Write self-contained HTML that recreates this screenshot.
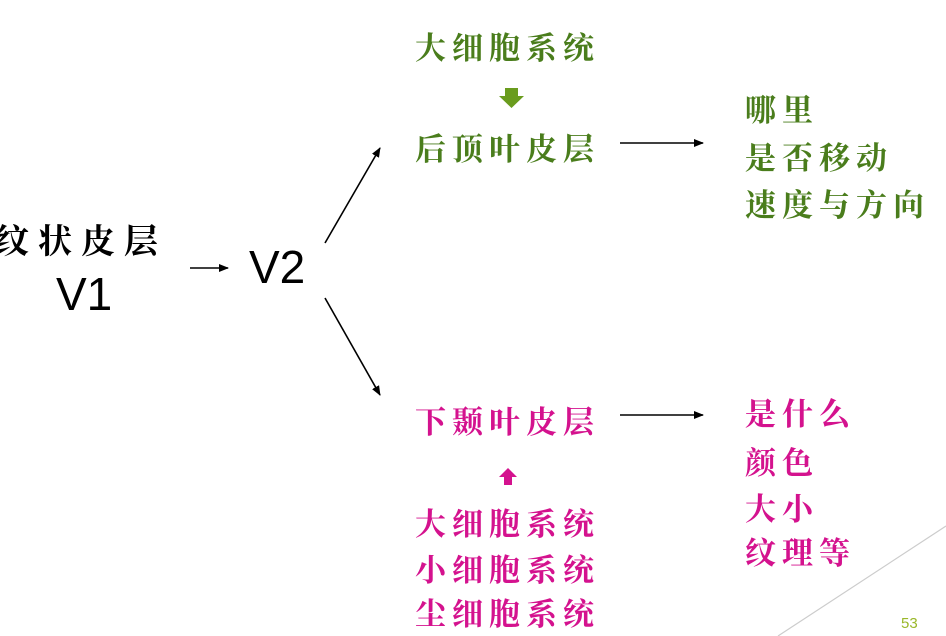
<!DOCTYPE html>
<html><head><meta charset="utf-8"><style>
body{margin:0;width:946px;height:636px;background:#fff;position:relative;overflow:hidden;font-family:"Liberation Sans","Noto Sans CJK SC",sans-serif}
.t{position:absolute;white-space:nowrap;line-height:1;font-family:"Noto Serif CJK SC","Liberation Sans",serif;font-weight:bold;font-size:31px;letter-spacing:6px}
.g{color:#4a7d1c}.m{color:#d4128e}
.v{position:absolute;font-family:"Liberation Sans","DejaVu Sans",sans-serif;font-size:46px;line-height:1;color:#000}
</style></head><body>
<svg width="946" height="636" style="position:absolute;left:0;top:0">
<defs><marker id="a" markerWidth="10" markerHeight="8" refX="9" refY="4" orient="auto" markerUnits="userSpaceOnUse"><path d="M0,0L10,4L0,8z" fill="#000"/></marker></defs>
<g stroke="#000" stroke-width="1.6" fill="none">
<line x1="190" y1="268" x2="228" y2="268" marker-end="url(#a)"/>
<line x1="325" y1="243" x2="380" y2="148" marker-end="url(#a)"/>
<line x1="325" y1="298" x2="380" y2="395" marker-end="url(#a)"/>
<line x1="620" y1="143" x2="703" y2="143" marker-end="url(#a)"/>
<line x1="620" y1="415" x2="703" y2="415" marker-end="url(#a)"/>
</g>
<line x1="778" y1="636" x2="946" y2="526" stroke="#ccc" stroke-width="1.2"/>
<path d="M505,88h13v8h6l-12.5,12l-12.5,-12h6z" fill="#6a9c1e"/>
<path d="M508,468l9,9h-5v8h-8v-8h-5z" fill="#d4128e"/>
</svg>
<div class="t" style="left:-5px;top:222px;color:#000;font-size:34px;letter-spacing:9px">纹状皮层</div>
<div class="v" style="left:56px;top:271px">V1</div>
<div class="v" style="left:249px;top:244px">V2</div>
<div class="t g" style="left:415px;top:30px">大细胞系统</div>
<div class="t g" style="left:415px;top:131px">后顶叶皮层</div>
<div class="t g" style="left:745px;top:92px">哪里</div>
<div class="t g" style="left:745px;top:140px">是否移动</div>
<div class="t g" style="left:745px;top:187px">速度与方向</div>
<div class="t m" style="left:415px;top:404px">下颞叶皮层</div>
<div class="t m" style="left:745px;top:396px">是什么</div>
<div class="t m" style="left:745px;top:445px">颜色</div>
<div class="t m" style="left:745px;top:491px">大小</div>
<div class="t m" style="left:745px;top:535px">纹理等</div>
<div class="t m" style="left:415px;top:506px">大细胞系统</div>
<div class="t m" style="left:415px;top:552px">小细胞系统</div>
<div class="t m" style="left:415px;top:596px">尘细胞系统</div>
<div style="position:absolute;left:901px;top:615px;font-size:15px;color:#9ab82a;font-family:'Liberation Sans',sans-serif">53</div>
</body></html>
